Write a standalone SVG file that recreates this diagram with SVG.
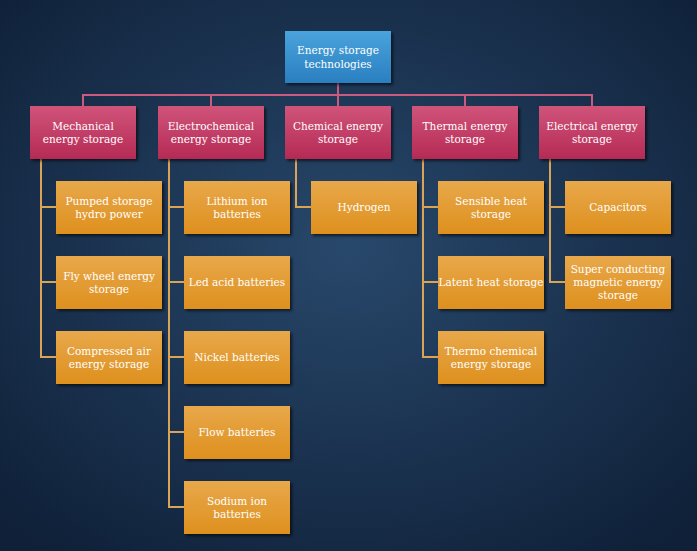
<svg xmlns="http://www.w3.org/2000/svg" width="697" height="551" viewBox="0 0 697 551">
<defs>
<radialGradient id="bg" cx="50%" cy="45%" r="70%"><stop offset="0" stop-color="#28486b"/><stop offset="1" stop-color="#0f2038"/></radialGradient>
<linearGradient id="gb" x1="0" y1="0" x2="0" y2="1"><stop offset="0" stop-color="#4aa3dc"/><stop offset="1" stop-color="#2a7fc0"/></linearGradient>
<linearGradient id="gr" x1="0" y1="0" x2="0" y2="1"><stop offset="0" stop-color="#d0547a"/><stop offset="1" stop-color="#b52a55"/></linearGradient>
<linearGradient id="go" x1="0" y1="0" x2="0" y2="1"><stop offset="0" stop-color="#e8a84a"/><stop offset="1" stop-color="#de901e"/></linearGradient>
<filter id="sh" x="-10%" y="-10%" width="130%" height="140%"><feDropShadow dx="2" dy="2" stdDeviation="1.5" flood-color="#000" flood-opacity="0.6"/></filter>
</defs>
<style>
text{font-family:"DejaVu Serif","Liberation Serif",serif;font-size:10.5px;fill:#fff;text-anchor:middle}
.b{fill:url(#gb);filter:url(#sh)}
.r{fill:url(#gr);filter:url(#sh)}
.o{fill:url(#go);filter:url(#sh)}
.lp{stroke:#c95a80;stroke-width:2;fill:none}
.lo{stroke:#d9a455;stroke-width:2;fill:none}
</style>
<rect width="697" height="551" fill="url(#bg)"/>
<g id="connectors">
<path class="lp" d="M338 83V95M83 106V95H592V106M211 95V106M338 95V106M465 95V106"/>
<path class="lo" d="M41 159V357H56M41 207H56M41 282H56"/>
<path class="lo" d="M169 159V507H184M169 207H184M169 282H184M169 357H184M169 432H184"/>
<path class="lo" d="M296 159V207H311"/>
<path class="lo" d="M423 159V357H438M423 207H438M423 282H438"/>
<path class="lo" d="M550 159V282H565M550 207H565"/>
</g>
<g id="root"><rect class="b" x="285" y="31" width="106" height="52"/><text x="338" y="54">Energy storage</text><text x="338" y="68">technologies</text></g>
<g id="mech"><rect class="r" x="30" y="106" width="106" height="53"/><text x="83" y="130">Mechanical</text><text x="83" y="143">energy storage</text></g>
<g id="elchem"><rect class="r" x="158" y="106" width="106" height="53"/><text x="211" y="130">Electrochemical</text><text x="211" y="143">energy storage</text></g>
<g id="chem"><rect class="r" x="285" y="106" width="106" height="53"/><text x="338" y="130">Chemical energy</text><text x="338" y="143">storage</text></g>
<g id="therm"><rect class="r" x="412" y="106" width="106" height="53"/><text x="465" y="130">Thermal energy</text><text x="465" y="143">storage</text></g>
<g id="elec"><rect class="r" x="539" y="106" width="106" height="53"/><text x="592" y="130">Electrical energy</text><text x="592" y="143">storage</text></g>
<g id="pumped"><rect class="o" x="56" y="181" width="106" height="53"/><text x="109" y="205">Pumped storage</text><text x="109" y="218">hydro power</text></g>
<g id="flywheel"><rect class="o" x="56" y="256" width="106" height="53"/><text x="109" y="280">Fly wheel energy</text><text x="109" y="293">storage</text></g>
<g id="caes"><rect class="o" x="56" y="331" width="106" height="53"/><text x="109" y="355">Compressed air</text><text x="109" y="368">energy storage</text></g>
<g id="li"><rect class="o" x="184" y="181" width="106" height="53"/><text x="237" y="205">Lithium ion</text><text x="237" y="218">batteries</text></g>
<g id="lead"><rect class="o" x="184" y="256" width="106" height="53"/><text x="237" y="286">Led acid batteries</text></g>
<g id="ni"><rect class="o" x="184" y="331" width="106" height="53"/><text x="237" y="361">Nickel batteries</text></g>
<g id="flow"><rect class="o" x="184" y="406" width="106" height="53"/><text x="237" y="436">Flow batteries</text></g>
<g id="na"><rect class="o" x="184" y="481" width="106" height="53"/><text x="237" y="505">Sodium ion</text><text x="237" y="518">batteries</text></g>
<g id="h2"><rect class="o" x="311" y="181" width="106" height="53"/><text x="364" y="211">Hydrogen</text></g>
<g id="sens"><rect class="o" x="438" y="181" width="106" height="53"/><text x="491" y="205">Sensible heat</text><text x="491" y="218">storage</text></g>
<g id="latent"><rect class="o" x="438" y="256" width="106" height="53"/><text x="491" y="286">Latent heat storage</text></g>
<g id="thermo"><rect class="o" x="438" y="331" width="106" height="53"/><text x="491" y="355">Thermo chemical</text><text x="491" y="368">energy storage</text></g>
<g id="cap"><rect class="o" x="565" y="181" width="106" height="53"/><text x="618" y="211">Capacitors</text></g>
<g id="smes"><rect class="o" x="565" y="256" width="106" height="53"/><text x="618" y="273">Super conducting</text><text x="618" y="286">magnetic energy</text><text x="618" y="299">storage</text></g>
</svg>
